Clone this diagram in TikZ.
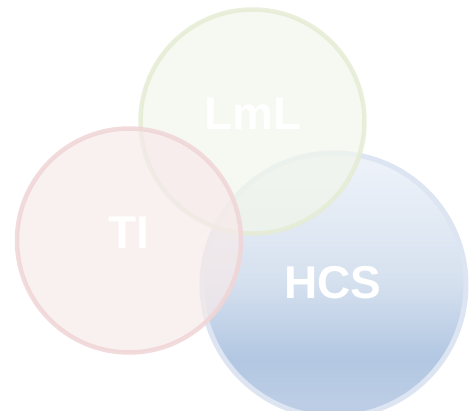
\documentclass[tikz,border=0pt]{standalone}
\usepackage{fontspec}
\setmainfont{Liberation Sans}
\definecolor{lmlfill}{HTML}{F2F6EB}
\definecolor{lmlring}{HTML}{E5ECD4}
\definecolor{tifill}{HTML}{F6EAEA}
\definecolor{tiring}{HTML}{F0D5D6}
\definecolor{hcsring}{HTML}{DCE5F1}
\definecolor{hcsA}{HTML}{EDF2F9}
\definecolor{hcsB}{HTML}{D6E1EF}
\definecolor{hcsC}{HTML}{B2C7E2}
\definecolor{hcsD}{HTML}{BCCDE5}
% vertical blue gradient for the lower-right disc
\pgfdeclareverticalshading{hcsshade}{100bp}{
  color(0bp)=(hcsD); color(28bp)=(hcsD); color(36bp)=(hcsC);
  color(51bp)=(hcsB); color(73bp)=(hcsA); color(100bp)=(hcsA)}
\tikzset{
  disc/.style={circle, inner sep=0pt, line width=4.5pt},
  label/.style={text=white, font=\fontsize{46}{46}\selectfont\bfseries}
}
\begin{document}
\begin{tikzpicture}[x=1pt,y=-1pt]
\useasboundingbox (0,0) rectangle (474,410);
% discs, back to front
\node[disc, minimum size=264pt, line width=5pt, draw=hcsring, shading=hcsshade] (hcs) at (334,285) {};
\node[disc, minimum size=224pt, draw=lmlring, fill=lmlfill, fill opacity=0.72, draw opacity=0.85] (lml) at (252.5,121.5) {};
\node[disc, minimum size=224pt, draw=tiring, fill=tifill, fill opacity=0.72, draw opacity=0.85] (ti) at (129,240.5) {};
% captions
\node[label] (lmltext) at (253,114) {LmL};
\node[label] (titext) at (129,233) {TI};
\node[label] (hcstext) at (333,283) {HCS};
\end{tikzpicture}
\end{document}
